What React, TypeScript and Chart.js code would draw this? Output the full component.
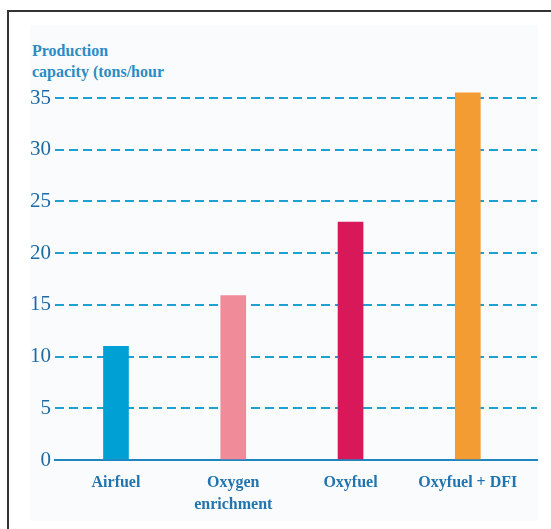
import React, { useEffect, useRef } from "react";
import { Chart, registerables } from "chart.js";

Chart.register(...registerables);

const categories: (string | string[])[] = ["Airfuel", ["Oxygen", "enrichment"], "Oxyfuel", "Oxyfuel + DFI"];
const capacity: number[] = [11, 15.9, 23, 35.5];
const barColors: string[] = ["#009fd4", "#f08b99", "#d9185a", "#f39c33"];
const yTicks: number[] = [0, 5, 10, 15, 20, 25, 30, 35];
const titleLines: string[] = ["Production", "capacity (tons/hour"];

export default function App() {
  const ref = useRef<HTMLCanvasElement | null>(null);

  useEffect(() => {
    if (!ref.current) return;
    const chart = new Chart(ref.current, {
      type: "bar",
      data: {
        datasets: [
          {
            data: capacity.map((v, i) => ({ x: i, y: v })),
            backgroundColor: barColors,
            borderWidth: 0,
            barThickness: 25,
            clip: false as any,
          },
        ],
      },
      options: {
        animation: false,
        responsive: false,
        maintainAspectRatio: false,
        layout: { padding: { top: 98, right: 14, bottom: 0, left: 0 } },
        plugins: { legend: { display: false }, tooltip: { enabled: false }, title: { display: false } },
        scales: {
          x: {
            type: "linear",
            offset: false,
            min: -0.52,
            max: 3.59,
            afterBuildTicks: (scale: any) => {
              scale.ticks = categories.map((_, i) => ({ value: i }));
            },
            afterFit: (scale: any) => {
              scale.height = 69;
            },
            grid: { display: false, drawTicks: false, offset: false },
            border: { display: true, color: "#1f86c0", width: 2 },
            ticks: {
              autoSkip: false,
              maxRotation: 0,
              padding: 12,
              color: "#2174ae",
              font: { family: "'Liberation Serif', serif", size: 16, weight: "bold", lineHeight: 1.35 },
              callback: (v: any) => categories[Number(v)] as any,
            },
          },
          y: {
            min: 0,
            max: 35,
            afterBuildTicks: (scale: any) => {
              scale.ticks = yTicks.map((v) => ({ value: v }));
            },
            afterFit: (scale: any) => {
              scale.width = 55;
            },
            grid: {
              drawTicks: false,
              lineWidth: 2,
              color: (ctx: any) => (ctx.tick && ctx.tick.value === 0 ? "#1f86c0" : "#1ea0d2"),
            },
            border: {
              display: false,
              dash: (ctx: any) => (ctx.tick && ctx.tick.value === 0 ? [] : [9, 5]),
            } as any,
            ticks: {
              padding: 4,
              color: "#1d6aa5",
              font: { family: "'Liberation Serif', serif", size: 21 },
            },
          },
        },
      },
    });
    return () => chart.destroy();
  }, []);

  return (
    <div style={{ position: "fixed", left: 0, top: 0, width: 551, height: 529, overflow: "hidden", background: "#ffffff" }}>
      <div
        style={{
          position: "absolute",
          left: 7,
          top: 10,
          width: 700,
          height: 700,
          borderTop: "2px solid #333",
          borderLeft: "2px solid #333",
        }}
      />
      <div style={{ position: "absolute", left: 30, top: 25, width: 508, height: 496, background: "#fafbfd" }} />
      <div
        style={{
          position: "absolute",
          left: 32,
          top: 40,
          color: "#2b8cc4",
          fontFamily: "'Liberation Serif', serif",
          fontWeight: "bold",
          fontSize: 16,
          lineHeight: "21px",
        }}
      >
        {titleLines.map((t, i) => (
          <div key={i}>{t}</div>
        ))}
      </div>
      <canvas ref={ref} width={551} height={529} style={{ position: "absolute", left: 0, top: 0 }} />
    </div>
  );
}
